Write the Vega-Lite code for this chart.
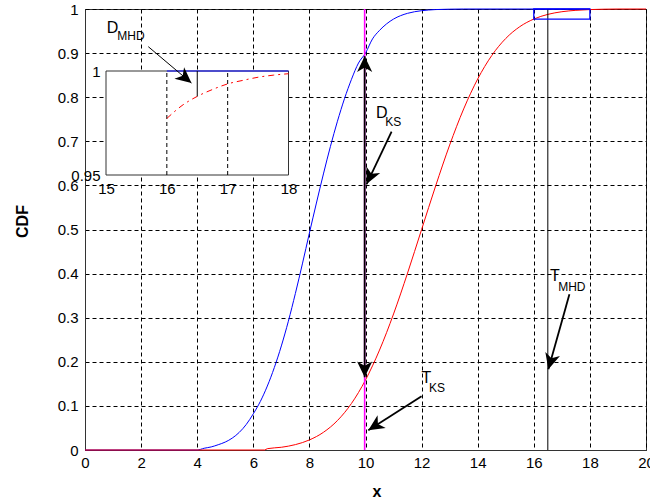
{
  "$schema": "https://vega.github.io/schema/vega-lite/v6.json",
  "width": 561,
  "height": 441,
  "autosize": {"type": "none"},
  "padding": {"left": 85, "top": 9, "right": 4, "bottom": 52},
  "background": "white",
  "config": {
    "font": "Liberation Sans",
    "view": {"stroke": "#333333", "strokeWidth": 1},
    "axis": {
      "labelFont": "Liberation Sans",
      "labelFontSize": 15,
      "labelColor": "#000000",
      "domainColor": "#333333",
      "ticks": false,
      "labelFlush": false,
      "labelOverlap": false,
      "gridColor": "#000000",
      "gridDash": [4, 3],
      "gridOpacity": 1,
      "gridWidth": 1,
      "titleFont": "Liberation Sans",
      "titleColor": "#000000"
    }
  },
  "datasets": {
    "blue": [
      {"x": 0, "y": 0}, {"x": 4, "y": 0}, {"x": 4.25, "y": 0.004}, {"x": 4.5, "y": 0.007},
      {"x": 4.75, "y": 0.012}, {"x": 5, "y": 0.018}, {"x": 5.25, "y": 0.027}, {"x": 5.5, "y": 0.04},
      {"x": 5.75, "y": 0.058}, {"x": 6, "y": 0.082}, {"x": 6.25, "y": 0.11}, {"x": 6.5, "y": 0.145},
      {"x": 6.75, "y": 0.187}, {"x": 7, "y": 0.236}, {"x": 7.25, "y": 0.292}, {"x": 7.5, "y": 0.355},
      {"x": 7.75, "y": 0.422}, {"x": 8, "y": 0.492}, {"x": 8.25, "y": 0.56}, {"x": 8.5, "y": 0.626},
      {"x": 8.75, "y": 0.6885}, {"x": 9, "y": 0.7455}, {"x": 9.25, "y": 0.7965}, {"x": 9.5, "y": 0.8405},
      {"x": 9.75, "y": 0.8775}, {"x": 10, "y": 0.9}, {"x": 10.25, "y": 0.9322}, {"x": 10.5, "y": 0.9515},
      {"x": 10.75, "y": 0.9662}, {"x": 11, "y": 0.9772}, {"x": 11.25, "y": 0.9849}, {"x": 11.5, "y": 0.9902},
      {"x": 11.75, "y": 0.9938}, {"x": 12, "y": 0.9962}, {"x": 12.25, "y": 0.9977}, {"x": 12.5, "y": 0.9987},
      {"x": 13, "y": 0.9996}, {"x": 13.5, "y": 1}, {"x": 18, "y": 1}
    ],
    "red": [
      {"x": 0, "y": 0}, {"x": 6.4, "y": 0}, {"x": 6.5, "y": 0.003}, {"x": 7, "y": 0.0062},
      {"x": 7.5, "y": 0.0122}, {"x": 8, "y": 0.0228}, {"x": 8.5, "y": 0.0401}, {"x": 9, "y": 0.0668},
      {"x": 9.5, "y": 0.1056}, {"x": 10, "y": 0.1587}, {"x": 10.5, "y": 0.2266}, {"x": 11, "y": 0.3085},
      {"x": 11.5, "y": 0.4013}, {"x": 12, "y": 0.5}, {"x": 12.5, "y": 0.5987}, {"x": 13, "y": 0.6915},
      {"x": 13.5, "y": 0.7734}, {"x": 14, "y": 0.8413}, {"x": 14.5, "y": 0.8944}, {"x": 15, "y": 0.9332},
      {"x": 15.5, "y": 0.9599}, {"x": 16, "y": 0.9772}, {"x": 16.5, "y": 0.9878}, {"x": 17, "y": 0.9938},
      {"x": 17.5, "y": 0.997}, {"x": 18, "y": 0.9987}, {"x": 18.5, "y": 0.9996}, {"x": 19, "y": 1},
      {"x": 20, "y": 1}
    ],
    "ksLine": [{"x": 9.97, "y": 0, "y2": 1}],
    "mhdLine": [{"x": 16.5, "y": 0, "y2": 1}],
    "zoomBox": [{"x": 16, "x2": 18, "y": 0.977, "y2": 1}],
    "shafts": [
      {"x": 9.97, "y": 0.165, "x2": 9.97, "y2": 0.893},
      {"x": 10.93, "y": 0.722, "x2": 10.04, "y2": 0.603},
      {"x": 12.0, "y": 0.122, "x2": 10.1, "y2": 0.045},
      {"x": 17.27, "y": 0.353, "x2": 16.52, "y2": 0.183}
    ],
    "heads": [
      {"x": 9.97, "y": 0.893, "angle": 0},
      {"x": 9.97, "y": 0.165, "angle": 180},
      {"x": 10.04, "y": 0.603, "angle": 205},
      {"x": 10.1, "y": 0.045, "angle": 237.5},
      {"x": 16.52, "y": 0.183, "angle": 195.6}
    ],
    "labels": [
      {"x": 0.774, "y": 0.946, "text": "D", "part": "main"},
      {"x": 1.15, "y": 0.929, "text": "MHD", "part": "sub"},
      {"x": 10.37, "y": 0.752, "text": "D", "part": "main"},
      {"x": 10.7, "y": 0.734, "text": "KS", "part": "sub"},
      {"x": 12.0, "y": 0.152, "text": "T", "part": "main"},
      {"x": 12.26, "y": 0.132, "text": "KS", "part": "sub"},
      {"x": 16.58, "y": 0.383, "text": "T", "part": "main"},
      {"x": 16.87, "y": 0.36, "text": "MHD", "part": "sub"}
    ],
    "insetBox": [{"x": 15, "x2": 18, "y": 0.95, "y2": 1}],
    "insetGrid": [{"x": 16, "y": 0.95, "y2": 1}, {"x": 17, "y": 0.95, "y2": 1}],
    "insetBlue": [{"x": 16, "y": 1}, {"x": 18, "y": 1}],
    "insetRed": [
      {"x": 16, "y": 0.9772}, {"x": 16.25, "y": 0.9834}, {"x": 16.5, "y": 0.9878}, {"x": 16.75, "y": 0.9911},
      {"x": 17, "y": 0.9938}, {"x": 17.25, "y": 0.9955}, {"x": 17.5, "y": 0.997}, {"x": 17.75, "y": 0.998},
      {"x": 18, "y": 0.9987}
    ],
    "insetThresh": [{"x": 16.5, "y": 0.9878, "y2": 1}],
    "insetShaft": [{"x": 15.695, "y": 1.0117, "x2": 16.405, "y2": 0.9942}],
    "insetHead": [{"x": 16.405, "y": 0.9942, "angle": 129.5}]
  },
  "layer": [
    {
      "layer": [
        {
          "data": {"name": "blue"},
          "mark": {"type": "line", "color": "#0000FF", "strokeWidth": 1, "interpolate": "monotone"},
          "encoding": {
            "x": {
              "field": "x", "type": "quantitative",
              "scale": {"domain": [0, 20], "nice": false, "zero": false},
              "axis": {
                "orient": "bottom",
                "values": [0, 2, 4, 6, 8, 10, 12, 14, 16, 18, 20],
                "format": "~g",
                "grid": true,
                "labelPadding": 5,
                "title": "x",
                "titleFontSize": 16,
                "titleFontWeight": "bold",
                "titleX": 291.5,
                "titleY": 41,
                "titleAlign": "center",
                "titleBaseline": "middle"
              }
            },
            "y": {
              "field": "y", "type": "quantitative",
              "scale": {"domain": [0, 1], "nice": false, "zero": false},
              "axis": {
                "orient": "left",
                "values": [0, 0.1, 0.2, 0.3, 0.4, 0.5, 0.6, 0.7, 0.8, 0.9, 1],
                "format": "~g",
                "grid": true,
                "labelPadding": 7,
                "title": "CDF",
                "titleFontSize": 16,
                "titleFontWeight": "bold",
                "titleAngle": -90,
                "titleX": -63,
                "titleY": 212,
                "titleAlign": "center",
                "titleBaseline": "middle"
              }
            }
          }
        },
        {
          "data": {"name": "red"},
          "mark": {"type": "line", "color": "#FF0000", "strokeWidth": 1, "interpolate": "monotone"},
          "encoding": {
            "x": {"field": "x", "type": "quantitative"},
            "y": {"field": "y", "type": "quantitative"}
          }
        },
        {
          "data": {"name": "ksLine"},
          "mark": {"type": "rule", "color": "#FF00FF", "strokeWidth": 1.6},
          "encoding": {
            "x": {"field": "x", "type": "quantitative"},
            "y": {"field": "y", "type": "quantitative"},
            "y2": {"field": "y2"}
          }
        },
        {
          "data": {"name": "mhdLine"},
          "mark": {"type": "rule", "color": "#000000", "strokeWidth": 1},
          "encoding": {
            "x": {"field": "x", "type": "quantitative"},
            "y": {"field": "y", "type": "quantitative"},
            "y2": {"field": "y2"}
          }
        },
        {
          "data": {"name": "zoomBox"},
          "mark": {"type": "rect", "fill": null, "stroke": "#0000FF", "strokeWidth": 1.3},
          "encoding": {
            "x": {"field": "x", "type": "quantitative"},
            "x2": {"field": "x2"},
            "y": {"field": "y", "type": "quantitative"},
            "y2": {"field": "y2"}
          }
        },
        {
          "data": {"name": "shafts"},
          "mark": {"type": "rule", "color": "#000000", "strokeWidth": 1.8},
          "encoding": {
            "x": {"field": "x", "type": "quantitative"},
            "y": {"field": "y", "type": "quantitative"},
            "x2": {"field": "x2"},
            "y2": {"field": "y2"},
            "strokeWidth": {"condition": {"test": "datum.x === datum.x2", "value": 2}, "value": 1}
          }
        },
        {
          "data": {"name": "heads"},
          "mark": {"type": "point", "shape": "M0,0L-0.48,1L0,0.72L0.48,1Z", "filled": true, "color": "#000000", "opacity": 1, "size": 1000, "strokeWidth": 0},
          "encoding": {
            "x": {"field": "x", "type": "quantitative"},
            "y": {"field": "y", "type": "quantitative"},
            "angle": {"field": "angle", "type": "quantitative", "scale": null}
          }
        },
        {
          "data": {"name": "labels"},
          "transform": [{"filter": "datum.part === 'main'"}],
          "mark": {"type": "text", "align": "left", "baseline": "alphabetic", "font": "Liberation Sans", "fontSize": 16, "color": "#000000"},
          "encoding": {
            "x": {"field": "x", "type": "quantitative"},
            "y": {"field": "y", "type": "quantitative"},
            "text": {"field": "text"}
          }
        },
        {
          "data": {"name": "labels"},
          "transform": [{"filter": "datum.part === 'sub'"}],
          "mark": {"type": "text", "align": "left", "baseline": "alphabetic", "font": "Liberation Sans", "fontSize": 12, "color": "#000000"},
          "encoding": {
            "x": {"field": "x", "type": "quantitative"},
            "y": {"field": "y", "type": "quantitative"},
            "text": {"field": "text"}
          }
        }
      ]
    },
    {
      "layer": [
        {
          "data": {"name": "insetBox"},
          "mark": {"type": "rect", "fill": "#FFFFFF", "stroke": "#333333", "strokeWidth": 1},
          "encoding": {
            "x": {
              "field": "x", "type": "quantitative",
              "scale": {"domain": [15, 18], "range": [21, 203.5], "nice": false, "zero": false},
              "axis": {
                "orient": "bottom",
                "offset": -275,
                "values": [15, 16, 17, 18],
                "format": "~g",
                "grid": false,
                "domain": false,
                "title": null,
                "labelPadding": 6
              }
            },
            "x2": {"field": "x2"},
            "y": {
              "field": "y", "type": "quantitative",
              "scale": {"domain": [0.95, 1], "range": [166, 62], "nice": false, "zero": false},
              "axis": {
                "orient": "left",
                "offset": -21,
                "values": [0.95, 1],
                "format": "~g",
                "grid": false,
                "domain": false,
                "title": null,
                "labelPadding": 6
              }
            },
            "y2": {"field": "y2"}
          }
        },
        {
          "data": {"name": "insetGrid"},
          "mark": {"type": "rule", "color": "#000000", "strokeWidth": 1, "strokeDash": [4, 3]},
          "encoding": {
            "x": {"field": "x", "type": "quantitative"},
            "y": {"field": "y", "type": "quantitative"},
            "y2": {"field": "y2"}
          }
        },
        {
          "data": {"name": "insetBlue"},
          "mark": {"type": "line", "color": "#0000FF", "strokeWidth": 1.2},
          "encoding": {
            "x": {"field": "x", "type": "quantitative"},
            "y": {"field": "y", "type": "quantitative"}
          }
        },
        {
          "data": {"name": "insetRed"},
          "mark": {"type": "line", "color": "#FF0000", "strokeWidth": 1, "strokeDash": [6, 4, 2, 4], "interpolate": "monotone"},
          "encoding": {
            "x": {"field": "x", "type": "quantitative"},
            "y": {"field": "y", "type": "quantitative"}
          }
        },
        {
          "data": {"name": "insetThresh"},
          "mark": {"type": "rule", "color": "#000000", "strokeWidth": 1},
          "encoding": {
            "x": {"field": "x", "type": "quantitative"},
            "y": {"field": "y", "type": "quantitative"},
            "y2": {"field": "y2"}
          }
        },
        {
          "data": {"name": "insetShaft"},
          "mark": {"type": "rule", "color": "#000000", "strokeWidth": 1},
          "encoding": {
            "x": {"field": "x", "type": "quantitative"},
            "y": {"field": "y", "type": "quantitative"},
            "x2": {"field": "x2"},
            "y2": {"field": "y2"}
          }
        },
        {
          "data": {"name": "insetHead"},
          "mark": {"type": "point", "shape": "M0,0L-0.48,1L0,0.72L0.48,1Z", "filled": true, "color": "#000000", "opacity": 1, "size": 1000, "strokeWidth": 0},
          "encoding": {
            "x": {"field": "x", "type": "quantitative"},
            "y": {"field": "y", "type": "quantitative"},
            "angle": {"field": "angle", "type": "quantitative", "scale": null}
          }
        }
      ]
    }
  ],
  "resolve": {"scale": {"x": "independent", "y": "independent"}}
}
